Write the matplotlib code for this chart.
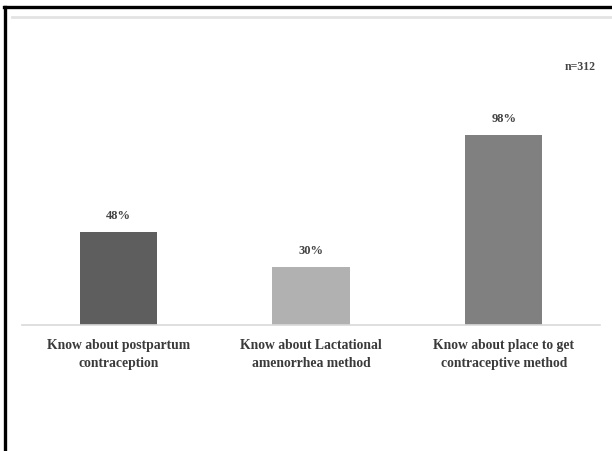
import matplotlib
matplotlib.use("Agg")
import matplotlib.pyplot as plt
from matplotlib.lines import Line2D

categories = ["Know about postpartum\ncontraception",
              "Know about Lactational\namenorrhea method",
              "Know about place to get\ncontraceptive method"]
values = [48, 30, 98]
value_labels = ["48%", "30%", "98%"]
bar_colors = ["#5e5e5e", "#b1b1b1", "#808080"]
sample_note = "n=312"

W, H = 612, 451
fig = plt.figure(figsize=(W / 100, H / 100), dpi=100)

# outer black frame (only left and top edges visible)
fig.add_artist(Line2D([5 / W, 5 / W], [0, 1 - 7 / H], color="black", lw=2.4,
                      transform=fig.transFigure))
fig.add_artist(Line2D([4 / W, 1], [1 - 7 / H, 1 - 7 / H], color="black", lw=2.4,
                      transform=fig.transFigure))
# light grey chart-area edge
fig.add_artist(Line2D([12 / W, 1], [1 - 17 / H, 1 - 17 / H], color="#e3e3e3", lw=2,
                      transform=fig.transFigure))

ax = fig.add_axes([22 / W, 1 - 325 / H, 578 / W, 285 / H])
x = range(len(values))
ax.bar(x, values, width=0.40, color=bar_colors)
ax.set_xlim(-0.5, 2.5)
ax.set_ylim(0, 147)
for s in ["top", "right", "left"]:
    ax.spines[s].set_visible(False)
ax.spines["bottom"].set_color("#d9d9d9")
ax.spines["bottom"].set_linewidth(1.2)
ax.set_yticks([])
ax.set_xticks(list(x))
ax.set_xticklabels(categories, fontsize=9.8, fontfamily="Liberation Serif",
                   fontweight="bold", color="#3a3a3a", linespacing=1.5)
ax.tick_params(axis="x", length=0, pad=10)

for xi, v, lab in zip(x, values, value_labels):
    ax.text(xi, v + 5, lab, ha="center", va="bottom", fontsize=9,
            fontfamily="Liberation Serif", fontweight="bold", color="#444444")

fig.text(580 / W, 1 - 67 / H, sample_note, ha="center", va="center", fontsize=8.5,
         fontfamily="Liberation Serif", fontweight="bold", color="#444444")

fig.savefig("out.png", dpi=100)
